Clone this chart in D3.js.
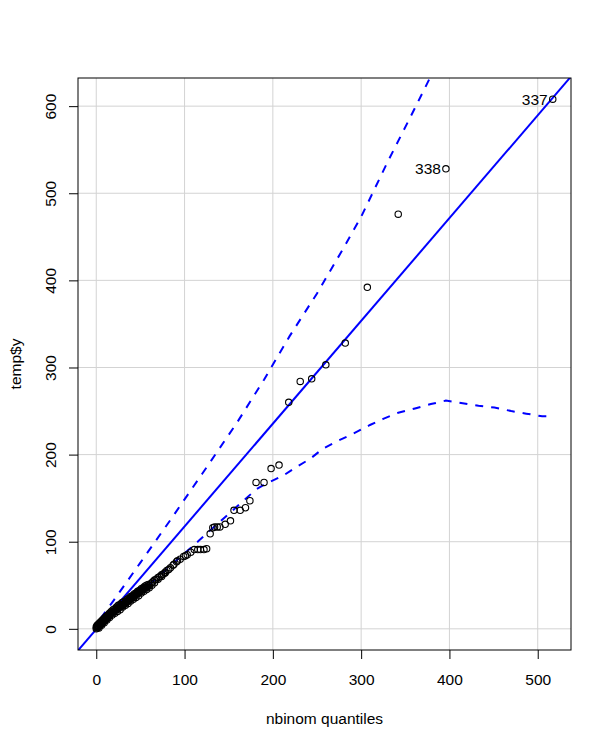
<!DOCTYPE html>
<html>
<head>
<meta charset="utf-8">
<script src="https://cdn.jsdelivr.net/npm/d3@7"></script>
<style>
  body { margin: 0; background: #fff; }
  text { font-family: "Liberation Sans", Arial, sans-serif; }
</style>
</head>
<body>
<div id="chart"></div>
<script>
// theoretical nbinom quantiles (x) and sample values temp$y (y)
const theoQ = [
  0, 0, 1, 1, 2, 2, 3, 3, 4, 4,
  5, 5, 6, 6, 7, 8, 8, 9, 10, 10,
  11, 12, 12, 13, 14, 15, 15, 16, 17, 18,
  19, 20, 21, 22, 23, 24, 25, 26, 27, 28,
  29, 30, 31, 32, 33, 34, 35, 36, 37, 38,
  39, 40, 41, 42, 43, 44, 45, 46, 47, 48,
  49, 50, 51, 52, 53, 54, 55, 56, 57, 58,
  60, 62, 64, 66, 68, 70, 72, 74, 76, 78,
  80, 82, 84, 87, 88, 91, 92, 95, 99, 101,
  103, 107, 111, 115, 118, 122, 125, 129, 132, 134,
  137, 140, 146, 152, 156, 163, 169, 174, 181, 190,
  198, 207, 218, 231, 244, 260, 282, 307, 342, 396,
  517,
  // dense band near the origin
  1, 3, 5, 7, 9, 11, 13, 15, 17, 19,
  21, 23, 25, 27, 29, 31, 33, 35, 37, 39,
  41, 43, 45, 47, 49, 51, 53, 55, 57, 59,
  3, 6, 9, 12, 15, 18, 21, 24, 27, 30,
  33, 36, 39, 42, 45, 48, 51, 54, 57, 60,
  63, 66, 70, 74, 78
];
const sampleY = [
  0, 2, 1, 3, 2, 4, 3, 5, 4, 6,
  5, 7, 6, 8, 7, 8, 10, 9, 10, 12,
  11, 12, 14, 13, 15, 15, 17, 17, 18, 19,
  19, 20, 21, 22, 22, 23, 24, 25, 25, 26,
  27, 27, 28, 29, 30, 31, 31, 32, 33, 34,
  35, 35, 36, 37, 38, 39, 39, 40, 41, 41,
  42, 43, 44, 45, 45, 46, 47, 47, 48, 48,
  50, 52, 54, 56, 57, 59, 60, 62, 63, 65,
  67, 68, 70, 73, 74, 77, 78, 80, 83, 84,
  85, 88, 91, 91, 91, 91, 92, 109, 116, 117,
  117, 117, 120, 124, 136, 136, 139, 147, 168, 168,
  184, 188, 260, 284, 287, 303, 328, 392, 476, 528,
  608,
  4, 6, 8, 10, 12, 14, 16, 18, 20, 22,
  23, 25, 27, 28, 30, 31, 32, 34, 35, 37,
  38, 40, 41, 43, 44, 46, 47, 49, 50, 51,
  1, 4, 7, 10, 13, 16, 18, 20, 22, 25,
  27, 29, 32, 34, 36, 38, 41, 43, 45, 47,
  50, 53, 57, 60, 64
];
const pointLabels = [{ idx: 120, text: "337" }, { idx: 119, text: "338" }];

// reference line
const lineIntercept = -0.5;
const lineSlope = 1.18;

// pointwise confidence envelope
const upperX = [5, 20, 50, 84, 120, 159, 190, 219, 250, 280, 300, 330, 362, 390];
const upperY = [12, 33, 76, 125, 178, 236, 286, 336, 385, 437, 473, 536, 600, 657];
const lowerX = [5, 16, 38, 65, 87, 116, 129, 159, 181, 193, 212, 227, 242, 257, 272,
  291, 310, 325, 342, 361, 379, 396, 415, 433, 451, 470, 487, 505, 511];
const lowerY = [3, 13, 32, 55, 75, 101, 113, 140, 160, 167, 176, 186, 195, 207, 215,
  224, 234, 241, 248, 253, 258, 262, 259, 256, 254, 250, 247, 244, 244];

const xTicks = [0, 100, 200, 300, 400, 500];
const yTicks = [0, 100, 200, 300, 400, 500, 600];

const width = 612, height = 748;
const pLeft = 78, pRight = 571, pTop = 78, pBottom = 650;

// R style 4% range extension
function padded(vals) {
  const [lo, hi] = d3.extent(vals);
  const d = (hi - lo) * 0.04;
  return [lo - d, hi + d];
}

const x = d3.scaleLinear().domain(padded(theoQ)).range([pLeft, pRight]);
const y = d3.scaleLinear().domain(padded(sampleY)).range([pBottom, pTop]);

const svg = d3.select("#chart").append("svg")
  .attr("width", width)
  .attr("height", height);

svg.append("defs").append("clipPath").attr("id", "clip")
  .append("rect")
  .attr("x", pLeft).attr("y", pTop)
  .attr("width", pRight - pLeft).attr("height", pBottom - pTop);

// grid
const grid = svg.append("g").attr("stroke", "#d3d3d3").attr("stroke-width", 1);
grid.selectAll(".gx").data(xTicks).enter().append("line")
  .attr("x1", (d) => x(d)).attr("x2", (d) => x(d))
  .attr("y1", pTop).attr("y2", pBottom);
grid.selectAll(".gy").data(yTicks).enter().append("line")
  .attr("x1", pLeft).attr("x2", pRight)
  .attr("y1", (d) => y(d)).attr("y2", (d) => y(d));

// axes
const xAxis = d3.axisBottom(x).tickValues(xTicks).tickSize(9).tickPadding(0).tickFormat(d3.format("d"));
const yAxis = d3.axisLeft(y).tickValues(yTicks).tickSize(9).tickPadding(0).tickFormat(d3.format("d"));

const gx = svg.append("g").attr("transform", `translate(0,${pBottom})`).call(xAxis);
gx.select(".domain").remove();
gx.selectAll("line").attr("stroke", "#000");
gx.selectAll("text")
  .attr("y", 35).attr("dy", null)
  .attr("fill", "#000")
  .style("font-size", "15.5px");

const gy = svg.append("g").attr("transform", `translate(${pLeft},0)`).call(yAxis);
gy.select(".domain").remove();
gy.selectAll("line").attr("stroke", "#000");
gy.selectAll("text")
  .attr("x", null).attr("dy", null)
  .attr("text-anchor", "middle")
  .attr("transform", "translate(-22.5,0) rotate(-90)")
  .attr("fill", "#000")
  .style("font-size", "15.5px");

// plotting area contents
const plot = svg.append("g").attr("clip-path", "url(#clip)");

const xd = x.domain();
plot.append("line")
  .attr("x1", x(xd[0])).attr("y1", y(lineIntercept + lineSlope * xd[0]))
  .attr("x2", x(xd[1])).attr("y2", y(lineIntercept + lineSlope * xd[1]))
  .attr("stroke", "#0000ff")
  .attr("stroke-width", 2);

const envLine = d3.line().x((d) => x(d[0])).y((d) => y(d[1]));
[d3.zip(upperX, upperY), d3.zip(lowerX, lowerY)].forEach((pts) => {
  plot.append("path")
    .attr("d", envLine(pts))
    .attr("fill", "none")
    .attr("stroke", "#0000ff")
    .attr("stroke-width", 2)
    .attr("stroke-dasharray", "8,8");
});

plot.selectAll("circle")
  .data(d3.zip(theoQ, sampleY))
  .enter()
  .append("circle")
  .attr("cx", (d) => x(d[0]))
  .attr("cy", (d) => y(d[1]))
  .attr("r", 3.2)
  .attr("fill", "none")
  .attr("stroke", "#000")
  .attr("stroke-width", 1.1);

svg.selectAll(".plabel")
  .data(pointLabels)
  .enter()
  .append("text")
  .attr("class", "plabel")
  .attr("x", (d) => x(theoQ[d.idx]) - 5)
  .attr("y", (d) => y(sampleY[d.idx]) + 5.5)
  .attr("text-anchor", "end")
  .style("font-size", "15.5px")
  .text((d) => d.text);

// box
svg.append("rect")
  .attr("x", pLeft).attr("y", pTop)
  .attr("width", pRight - pLeft).attr("height", pBottom - pTop)
  .attr("fill", "none")
  .attr("stroke", "#000")
  .attr("stroke-width", 1);

// titles
svg.append("text")
  .attr("x", (pLeft + pRight) / 2)
  .attr("y", 724)
  .attr("text-anchor", "middle")
  .style("font-size", "15.5px")
  .text("nbinom quantiles");

svg.append("text")
  .attr("transform", `translate(21,${(pTop + pBottom) / 2}) rotate(-90)`)
  .attr("text-anchor", "middle")
  .style("font-size", "15.5px")
  .text("temp$y");
</script>
</body>
</html>
